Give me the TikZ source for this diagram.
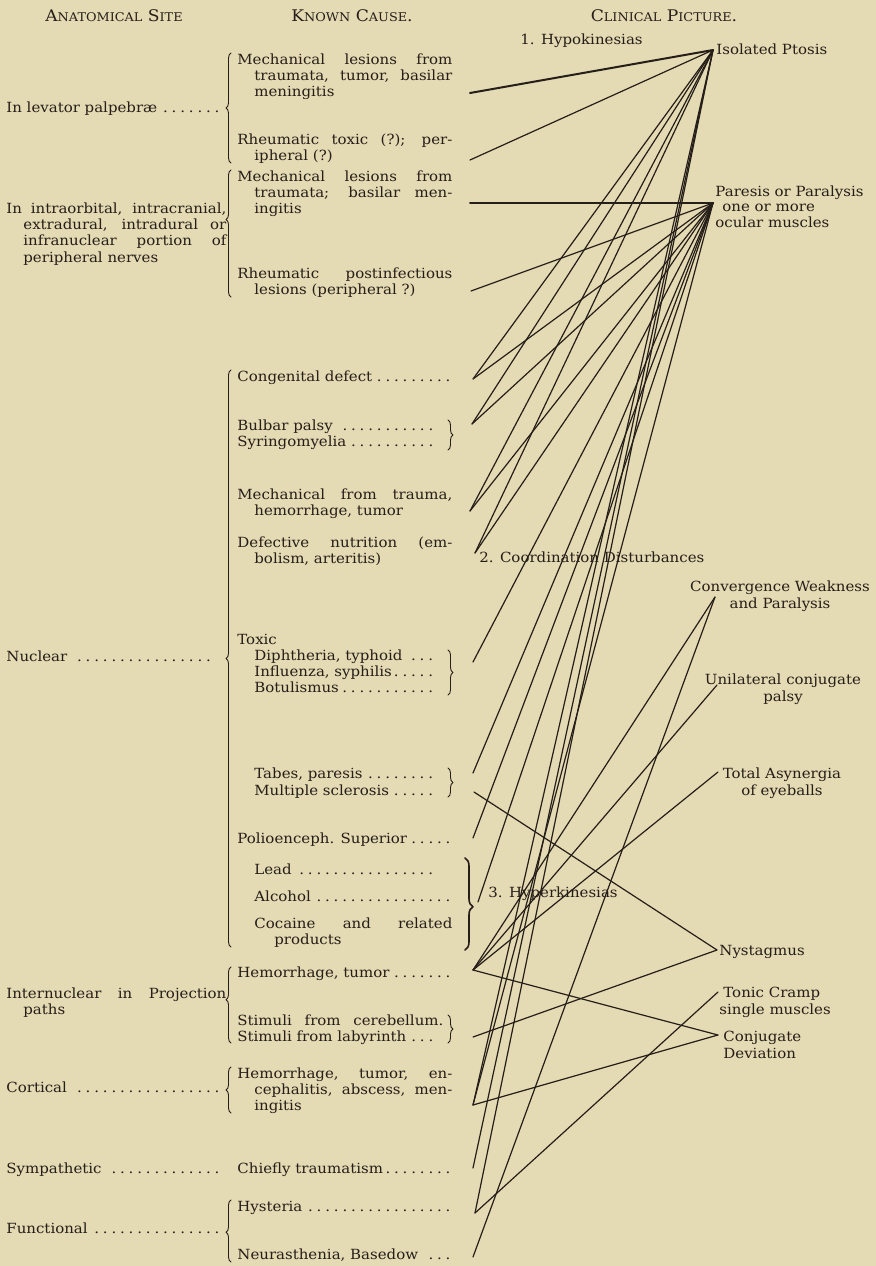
\documentclass[tikz,border=0pt]{standalone}
\usepackage{fontspec}
\setmainfont{DejaVu Serif}[FakeStretch=1.07]
\usepackage{tikz}
\usetikzlibrary{decorations.pathreplacing}

\definecolor{paper}{RGB}{228,218,180}
\definecolor{ink}{RGB}{38,30,24}

% dot leaders and fake small caps
\newcommand\dotrow{\leaders\hbox to 4.3pt{\hss.\hss}\hfill}
\newcommand\smc[1]{{\fontsize{6}{7}\selectfont\MakeUppercase{#1}}}
\newcommand\hang[2]{\parbox[t]{#1}{\hangindent=8.5pt\hangafter=1 #2\dotrow}}
\hfuzz=20pt

\begin{document}
\begin{tikzpicture}[x=0.5pt, y=-0.5pt, line cap=round, line join=round,
    txt/.style={anchor=base west, inner sep=0pt, text=ink, font=\fontsize{7}{8.2}\selectfont},
    ctr/.style={txt, anchor=base, align=center},
    head/.style={ctr, font=\fontsize{8}{9}\selectfont},
    link/.style={draw=ink, line width=0.6pt},
    heavy/.style={draw=ink, line width=1pt},
    lbrace/.style={draw=ink, line width=0.45pt, decorate, decoration={brace, amplitude=2.5pt, aspect=#1}},
    rbrace/.style={draw=ink, line width=0.45pt, decorate, decoration={brace, amplitude=2.5pt}}]

  % paper
  \fill[paper] (0,0) rectangle (876,1266);
  \useasboundingbox (0,0) rectangle (876,1266);

  % column heads
  \node[head] (hsite) at (114,21) {A\smc{natomical} S\smc{ite}};
  \node[head] (hcause) at (352,21) {K\smc{nown} C\smc{ause}.};
  \node[head] (hclin) at (664,21) {C\smc{linical} P\smc{icture}.};

  % anatomical site
  \node[txt] (levator) at (6,112) {\hbox to 108.5pt{In levator palpebræ\dotrow}};
  \node[txt] (orbital) at (6,213) {\hang{110pt}{In intraorbital, intracranial,\linebreak extradural, intradural or\linebreak infranuclear portion of\linebreak peripheral nerves}};
  \node[txt] (nuclear) at (6,661) {\hbox to 103.5pt{Nuclear\dotrow}};
  \node[txt] (internuc) at (6,998) {\hang{110pt}{Internuclear in Projection\linebreak paths}};
  \node[txt] (cortical) at (6,1092) {\hbox to 108.5pt{Cortical\dotrow}};
  \node[txt] (sympath) at (6,1173) {\hbox to 109.5pt{Sympathetic\dotrow}};
  \node[txt] (function) at (6,1233) {\hbox to 108.5pt{Functional\dotrow}};

  % known cause
  \node[txt] (c1) at (237,64) {\hang{107.5pt}{Mechanical lesions from\linebreak traumata, tumor, basilar\linebreak meningitis}};
  \node[txt] (c2) at (237,144) {\hang{107.5pt}{Rheumatic toxic (?); per-\linebreak ipheral (?)}};
  \node[txt] (c3) at (237,181) {\hang{107.5pt}{Mechanical lesions from\linebreak traumata; basilar men-\linebreak ingitis}};
  \node[txt] (c4) at (237,278) {\hang{107.5pt}{Rheumatic postinfectious\linebreak lesions (peripheral ?)}};
  \node[txt] (c5) at (237,381) {\hbox to 107.5pt{Congenital defect\dotrow}};
  \node[txt] (c6a) at (237,430) {\hbox to 103pt{Bulbar palsy\dotrow}};
  \node[txt] (c6b) at (237,446) {\hbox to 103pt{Syringomyelia\dotrow}};
  \node[txt] (c7) at (237,499) {\hang{107.5pt}{Mechanical from trauma,\linebreak hemorrhage, tumor}};
  \node[txt] (c8) at (237,547) {\hang{107.5pt}{Defective nutrition (em-\linebreak bolism, arteritis) }};
  \node[txt] (c9) at (237,644) {Toxic};
  \node[txt] (c9a) at (254,660) {\hbox to 94.5pt{Diphtheria, typhoid\dotrow}};
  \node[txt] (c9b) at (254,676) {\hbox to 94.5pt{Influenza, syphilis\dotrow}};
  \node[txt] (c9c) at (254,692) {\hbox to 94.5pt{Botulismus\dotrow}};
  \node[txt] (c10a) at (254,778) {\hbox to 94.5pt{Tabes, paresis\dotrow}};
  \node[txt] (c10b) at (254,795) {\hbox to 94.5pt{Multiple sclerosis\dotrow}};
  \node[txt] (c11) at (237,843) {\hbox to 107.5pt{Polioenceph. Superior\dotrow}};
  \node[txt] (c12a) at (254,874) {\hbox to 93pt{Lead\dotrow}};
  \node[txt] (c12b) at (254,901) {\hbox to 99pt{Alcohol\dotrow}};
  \node[txt] (c12c) at (254,928) {\parbox[t]{99pt}{\hangindent=10pt\hangafter=1 Cocaine and related\linebreak products\dotrow}};
  \node[txt] (c13) at (237,977) {\hbox to 107.5pt{Hemorrhage, tumor\dotrow}};
  \node[txt] (c14a) at (237,1025) {\hbox to 103pt{Stimuli from cerebellum.}};
  \node[txt] (c14b) at (237,1041) {\hbox to 103pt{Stimuli from labyrinth\dotrow}};
  \node[txt] (c15) at (237,1078) {\hang{107.5pt}{Hemorrhage, tumor, en-\linebreak cephalitis, abscess, men-\linebreak ingitis}};
  \node[txt] (c16) at (237,1173) {\hbox to 107.5pt{Chiefly traumatism\dotrow}};
  \node[txt] (c17) at (237,1211) {\hbox to 107.5pt{Hysteria\dotrow}};
  \node[txt] (c18) at (237,1259) {\hbox to 107.5pt{Neurasthenia, Basedow\dotrow}};

  % braces
  \draw[lbrace=0.5] (231,163) -- (231,53);
  \draw[lbrace=0.61] (231,297) -- (231,170);
  \draw[lbrace=0.5] (231,947) -- (231,370);
  \draw[lbrace=0.57] (231,1043) -- (231,967);
  \draw[lbrace=0.5] (231,1113) -- (231,1067);
  \draw[lbrace=0.48] (231,1262) -- (231,1200);
  \draw[rbrace] (448,420) -- (448,450);
  \draw[rbrace] (448,650) -- (448,695);
  \draw[rbrace] (448,768) -- (448,797);
  \draw[rbrace] (448,1015) -- (448,1043);
  \draw[rbrace, line width=0.8pt, decoration={amplitude=4pt, aspect=0.53}] (465,858) -- (465,950);

  % clinical picture (multi-line nodes sit on their last line)
  \node[txt] (hypo) at (520,44) {1. Hypokinesias};
  \node[txt] (tptosis) at (716,54) {Isolated Ptosis};
  \node[txt, align=left, font=\fontsize{7}{7.6}\selectfont] (tparesis) at (715,227) {Paresis or Paralysis\\\hspace{3.5pt}one or more\\ocular muscles};
  \node[txt] (coord) at (479,562) {2. Coordination Disturbances};
  \node[ctr] (tconverg) at (780,608) {Convergence Weakness\\and Paralysis};
  \node[ctr] (tunilat) at (783,701) {Unilateral conjugate\\palsy};
  \node[ctr] (tasyn) at (782,795) {Total Asynergia\\of eyeballs};
  \node[txt] (hyper) at (488,897) {3. Hyperkinesias};
  \node[txt] (tnystag) at (719,955) {Nystagmus};
  \node[txt, align=left] (ttonic) at (719,1014) {\hspace{2pt}Tonic Cramp\\single muscles};
  \node[txt, align=left] (tconj) at (723,1058) {Conjugate\\Deviation};

  % end points of the connectors
  \coordinate (ptosis) at (713,50);
  \coordinate (paresis) at (713,203);
  \coordinate (converg) at (715,597);
  \coordinate (unilat) at (717,685);
  \coordinate (asyn) at (718,772);
  \coordinate (nystag) at (717,950);
  \coordinate (tonic) at (718,992);
  \coordinate (conjdev) at (718,1035);

  \coordinate (levmech) at (470,93);
  \coordinate (levrheu) at (470,160);
  \coordinate (orbmech) at (470,203);
  \coordinate (orbrheu) at (471,291);
  \coordinate (congen) at (473,379);
  \coordinate (bulbar) at (472,424);
  \coordinate (nucmech) at (470,511);
  \coordinate (defnut) at (475,553);
  \coordinate (toxic) at (473,662);
  \coordinate (tabes) at (473,773);
  \coordinate (multscl) at (474,792);
  \coordinate (polio) at (473,838);
  \coordinate (lead) at (478,902);
  \coordinate (inthem) at (473,970);
  \coordinate (labyr) at (473,1037);
  \coordinate (cortic) at (473,1105);
  \coordinate (sympa) at (473,1168);
  \coordinate (hyster) at (475,1213);
  \coordinate (neura) at (473,1257);

  % connectors
  \draw[heavy] (levmech) -- (ptosis);
  \draw[heavy] (orbmech) -- (paresis);
  \foreach \a/\b in {levrheu/ptosis, orbrheu/paresis, congen/ptosis, congen/paresis,
      bulbar/ptosis, bulbar/paresis, nucmech/ptosis, nucmech/paresis,
      defnut/ptosis, defnut/paresis, toxic/paresis, tabes/paresis, polio/paresis,
      lead/paresis, cortic/ptosis, cortic/paresis, sympa/ptosis, hyster/ptosis,
      multscl/nystag, labyr/nystag, inthem/converg, inthem/unilat, inthem/asyn,
      inthem/conjdev, cortic/conjdev, hyster/tonic, neura/converg}
    \draw[link] (\a) -- (\b);

\end{tikzpicture}
\end{document}
